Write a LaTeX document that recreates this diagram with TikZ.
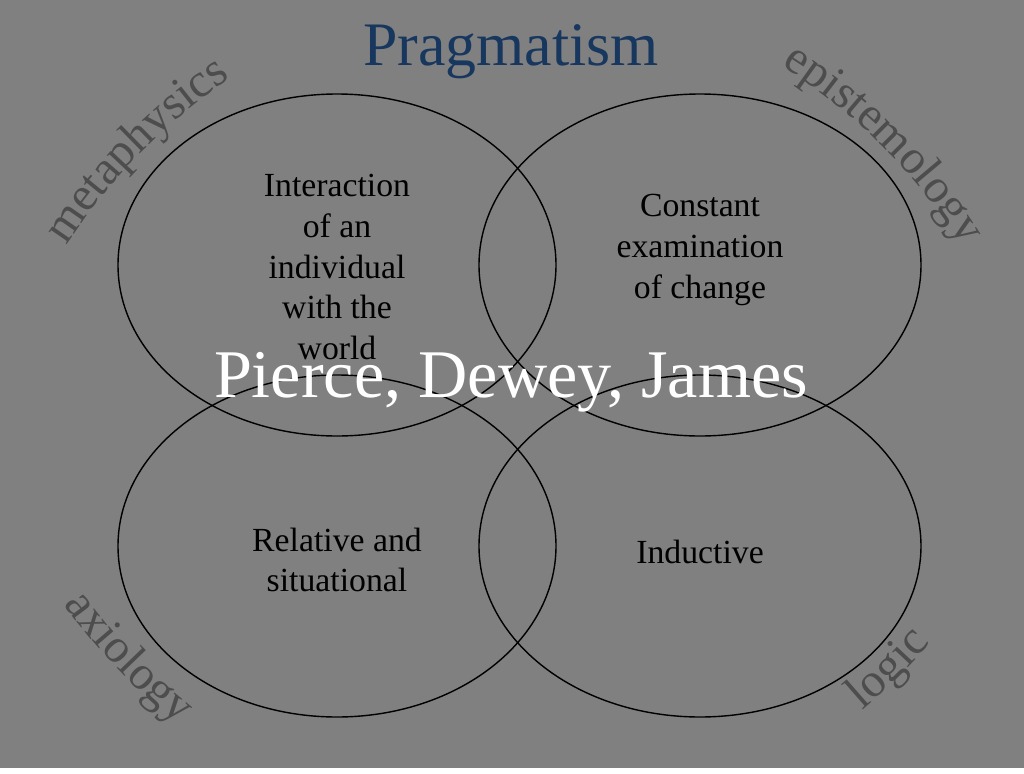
\documentclass[tikz,border=0pt]{standalone}
\usepackage{fontspec}
\setmainfont{Liberation Serif}
\usetikzlibrary{decorations.text}
\definecolor{slide}{RGB}{128,128,128}
\definecolor{branch}{RGB}{77,77,77}
\definecolor{titleblue}{RGB}{23,55,94}
\newcommand\branchfont{\fontsize{13.6pt}{16pt}\selectfont}
\tikzset{
  field/.style={draw=black, line width=0.4pt},
  body/.style={align=center, font=\fontsize{9.6pt}{11.6pt}\selectfont},
  arm/.style={decorate, decoration={text along path, text align=center, text color=branch, text={|\branchfont|#1}}}
}

\begin{document}
\begin{tikzpicture}
\fill[slide] (0,0) rectangle (10.24,7.68);
\draw[field] (3.37,5.03) ellipse [x radius=2.19, y radius=1.71];
\draw[field] (7.00,5.03) ellipse [x radius=2.21, y radius=1.71];
\draw[field] (3.37,2.22) ellipse [x radius=2.19, y radius=1.71];
\draw[field] (7.00,2.22) ellipse [x radius=2.21, y radius=1.71];
\node[anchor=base, text=titleblue, font=\fontsize{17.6pt}{21pt}\selectfont] (title) at (5.11,7.03) {Pragmatism};
\node[body] (meta) at (3.37,5.01) {Interaction\\of an\\individual\\with the\\world};
\node[body] (epis) at (7.00,5.18) {Constant\\examination\\of change};
\node[body] (axio) at (3.37,2.08) {Relative and\\situational};
\node[body] (logic) at (7.00,2.16) {Inductive};
\node[anchor=base, text=white, font=\fontsize{19.4pt}{23pt}\selectfont] (names) at (5.11,3.71) {Pierce, Dewey, James};
\path[arm=metaphysics] ([shift={(150:5.8)}]5.54,2.08) arc (150:121:5.8);
\path[arm=epistemology] ([shift={(60:5.8)}]4.72,2.12) arc (60:30:5.8);
\path[arm=axiology] ([shift={(210:6.05)}]5.56,5.16) arc (210:237:6.05);
\path[arm=logic] ([shift={(-60:6.05)}]4.70,5.18) arc (-60:-30:6.05);
\end{tikzpicture}
\end{document}
